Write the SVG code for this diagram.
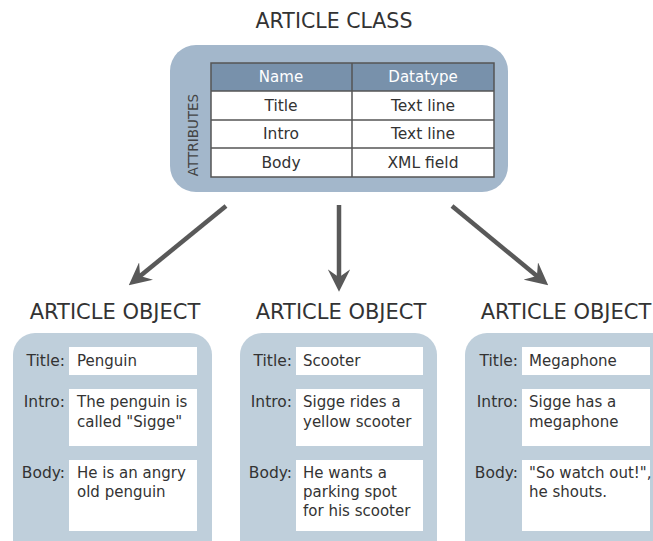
<svg xmlns="http://www.w3.org/2000/svg" width="653" height="541" viewBox="0 0 653 541">
<defs>
<style>
text{font-family:"DejaVu Sans","Liberation Sans",sans-serif;fill:#333}
.h{font-size:21px;text-anchor:middle}
.lbl{font-size:15.5px;text-anchor:end}
.f{font-size:15px}
.th{font-size:15px;text-anchor:middle;fill:#fff}
.td{font-size:15.5px;text-anchor:middle}
.obj{fill:#bfcfdb}
.fld{fill:#fff}
.conn{stroke:#595959;stroke-width:4.5;fill:none}
</style>
<marker id="ah" viewBox="0 0 10 10" refX="7" refY="5" markerWidth="5" markerHeight="5" orient="auto" markerUnits="strokeWidth">
<path d="M0,0 L10,5 L0,10 L3.5,5 Z" fill="#595959"/>
</marker>
</defs>
<rect width="653" height="541" fill="#fff"/>

<g id="article-class">
<text class="h" x="334" y="28" style="font-size:20.5px">ARTICLE CLASS</text>
<rect x="170" y="45" width="338" height="147" rx="26" fill="#a3b7cb"/>
<rect x="211" y="63" width="283" height="28" fill="#7891ab"/>
<rect x="211" y="91" width="283" height="86" fill="#fff"/>
<g stroke="#555" stroke-width="1.5" fill="none">
<rect x="211" y="63" width="283" height="114"/>
<line x1="211" y1="91" x2="494" y2="91"/>
<line x1="211" y1="120" x2="494" y2="120"/>
<line x1="211" y1="148" x2="494" y2="148"/>
<line x1="352" y1="63" x2="352" y2="177"/>
</g>
<text class="th" x="281" y="82">Name</text>
<text class="th" x="423" y="82">Datatype</text>
<text class="td" x="281" y="111">Title</text>
<text class="td" x="423" y="111">Text line</text>
<text class="td" x="281" y="139">Intro</text>
<text class="td" x="423" y="139">Text line</text>
<text class="td" x="281" y="168">Body</text>
<text class="td" x="423" y="168">XML field</text>
<text x="0" y="0" transform="translate(198,135) rotate(-90)" style="font-size:13.5px;text-anchor:middle;fill:#444">ATTRIBUTES</text>
</g>

<g id="connectors">
<line class="conn" x1="226" y1="206" x2="134" y2="281" marker-end="url(#ah)"/>
<line class="conn" x1="339" y1="205" x2="339" y2="285" marker-end="url(#ah)"/>
<line class="conn" x1="452" y1="206" x2="543" y2="281" marker-end="url(#ah)"/>
</g>

<g id="object-penguin">
<text class="h" x="115" y="319">ARTICLE OBJECT</text>
<rect class="obj" x="13" y="333" width="199" height="230" rx="22"/>
<rect class="fld" x="69" y="347" width="128" height="28"/>
<rect class="fld" x="69" y="389" width="128" height="57"/>
<rect class="fld" x="69" y="460" width="128" height="71"/>
<text class="lbl" x="65" y="366">Title:</text>
<text class="lbl" x="65" y="407">Intro:</text>
<text class="lbl" x="65" y="478">Body:</text>
<text class="f" x="77" y="366">Penguin</text>
<text class="f" x="77" y="407">The penguin is</text>
<text class="f" x="77" y="427">called "Sigge"</text>
<text class="f" x="77" y="478">He is an angry</text>
<text class="f" x="77" y="497">old penguin</text>
</g>

<g id="object-scooter">
<text class="h" x="341" y="319">ARTICLE OBJECT</text>
<rect class="obj" x="240" y="333" width="197" height="230" rx="22"/>
<rect class="fld" x="296" y="347" width="127" height="28"/>
<rect class="fld" x="296" y="389" width="127" height="57"/>
<rect class="fld" x="296" y="460" width="127" height="71"/>
<text class="lbl" x="292" y="366">Title:</text>
<text class="lbl" x="292" y="407">Intro:</text>
<text class="lbl" x="292" y="478">Body:</text>
<text class="f" x="303" y="366">Scooter</text>
<text class="f" x="303" y="407">Sigge rides a</text>
<text class="f" x="303" y="427">yellow scooter</text>
<text class="f" x="303" y="478">He wants a</text>
<text class="f" x="303" y="497">parking spot</text>
<text class="f" x="303" y="516">for his scooter</text>
</g>

<g id="object-megaphone">
<text class="h" x="566" y="319">ARTICLE OBJECT</text>
<rect class="obj" x="465" y="333" width="210" height="230" rx="22"/>
<rect class="fld" x="522" y="347" width="128" height="28"/>
<rect class="fld" x="522" y="389" width="128" height="57"/>
<rect class="fld" x="522" y="460" width="128" height="71"/>
<text class="lbl" x="518" y="366">Title:</text>
<text class="lbl" x="518" y="407">Intro:</text>
<text class="lbl" x="518" y="478">Body:</text>
<text class="f" x="529" y="366">Megaphone</text>
<text class="f" x="529" y="407">Sigge has a</text>
<text class="f" x="529" y="427">megaphone</text>
<text class="f" x="529" y="478">"So watch out!",</text>
<text class="f" x="529" y="497">he shouts.</text>
</g>
</svg>
